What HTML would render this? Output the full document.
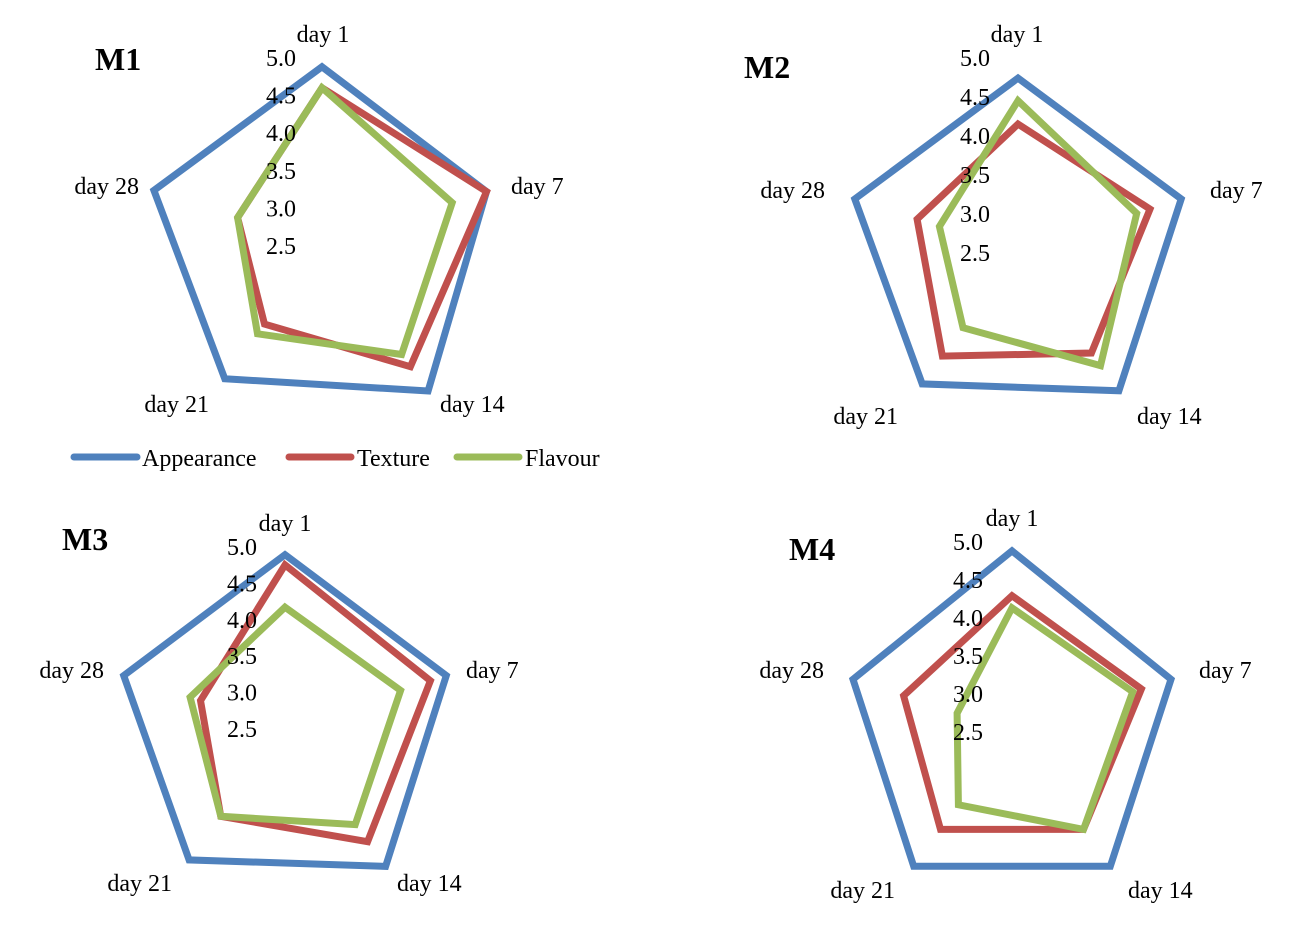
<!DOCTYPE html>
<html><head><meta charset="utf-8"><style>
html,body{margin:0;padding:0;background:#fff;}
svg{display:block;font-family:"Liberation Serif",serif;}
</style></head><body>
<svg id="chart" width="1309" height="939" viewBox="0 0 1309 939">
<g>
<line x1="74" y1="457" x2="137" y2="457" stroke="#4F81BD" stroke-width="7" stroke-linecap="round"/>
<text x="142" y="466" font-size="24">Appearance</text>
<line x1="289" y1="457" x2="351" y2="457" stroke="#C0504D" stroke-width="7" stroke-linecap="round"/>
<text x="357" y="466" font-size="24">Texture</text>
<line x1="457" y1="457" x2="519" y2="457" stroke="#9BBB59" stroke-width="7" stroke-linecap="round"/>
<text x="525" y="466" font-size="24">Flavour</text>
</g>
</svg>
<script>
const categories = ["day 1","day 7","day 14","day 21","day 28"];
const seriesNames = ["Appearance","Texture","Flavour"];
const tickLabels = ["5.0","4.5","4.0","3.5","3.0","2.5"];
const tickValues = [5.0,4.5,4.0,3.5,3.0,2.5];
const axisMin = 2.5, axisMax = 5.0;
const m1Appearance = [4.87,4.8,4.9,4.7,4.85];
const m1Texture = [4.59,4.8,4.5,3.8,3.68];
const m1Flavour = [4.59,4.32,4.3,3.96,3.68];
const m2Appearance = [4.73,4.7,4.7,4.59,4.7];
const m2Texture = [4.14,4.28,4.1,4.15,3.86];
const m2Flavour = [4.44,4.1,4.3,3.7,3.56];
const m3Appearance = [4.88,4.83,4.85,4.74,4.83];
const m3Texture = [4.74,4.6,4.43,4.0,3.72];
const m3Flavour = [4.16,4.17,4.14,4.0,3.87];
const m4Appearance = [4.87,4.7,4.7,4.7,4.7];
const m4Texture = [4.28,4.29,4.1,4.1,4.0];
const m4Flavour = [4.12,4.17,4.1,3.7,3.26];
const colors = ["#4F81BD","#C0504D","#9BBB59"];

const NS = "http://www.w3.org/2000/svg";
const svg = document.getElementById("chart");
const panels = [
 {title:"M1", cx:322, cy:245, R:188, tx:95, ty:70, tickX:296, data:[m1Appearance,m1Texture,m1Flavour],
  labels:[[323,42,"middle"],[511,194,"start"],[440,412,"start"],[209,412,"end"],[139,194,"end"]]},
 {title:"M2", cx:1018, cy:252, R:195, tx:744, ty:78, tickX:990, data:[m2Appearance,m2Texture,m2Flavour],
  labels:[[1017,42,"middle"],[1210,198,"start"],[1137,424,"start"],[898,424,"end"],[825,198,"end"]]},
 {title:"M3", cx:285, cy:728, R:182, tx:62, ty:550, tickX:257, data:[m3Appearance,m3Texture,m3Flavour],
  labels:[[285,531,"middle"],[466,678,"start"],[397,891,"start"],[172,891,"end"],[104,678,"end"]]},
 {title:"M4", cx:1012, cy:731, R:190, tx:789, ty:560, tickX:983, data:[m4Appearance,m4Texture,m4Flavour],
  labels:[[1012,526,"middle"],[1199,678,"start"],[1128,898,"start"],[895,898,"end"],[824,678,"end"]]}
];
function rScale(p, v){ return (v-axisMin)/(axisMax-axisMin)*p.R; }
function pt(p, i, v){
  const a = -Math.PI/2 + i*2*Math.PI/categories.length;
  const r = rScale(p, v);
  return [p.cx + r*Math.cos(a), p.cy + r*Math.sin(a)];
}
function mk(tag, attrs, parent){
  const el = document.createElementNS(NS, tag);
  for (const k in attrs) el.setAttribute(k, attrs[k]);
  parent.appendChild(el);
  return el;
}
panels.forEach(p => {
  const g = mk("g", {}, svg);
  
  
  const t = mk("text", {x:p.tx, y:p.ty, "font-size":32, "font-weight":"bold"}, g);
  t.textContent = p.title;
  
  
  p.data.forEach((vals, s) => {
    const pts = vals.map((v,i) => pt(p,i,v).map(n=>n.toFixed(1)).join(",")).join(" ");
    const poly = mk("polygon", {points:pts, fill:"none", stroke:colors[s], "stroke-width":7, "stroke-linejoin":"miter"}, g);
    
    
  });
  tickValues.forEach((v, k) => {
    const y = p.cy - rScale(p, v) + 9;
    const tl = mk("text", {x:p.tickX, y:y.toFixed(1), "font-size":24, "text-anchor":"end"}, g);
    tl.textContent = tickLabels[k];
    
    
  });
  categories.forEach((c, i) => {
    const L = p.labels[i];
    const ct = mk("text", {x:L[0], y:L[1], "font-size":24, "text-anchor":L[2]}, g);
    ct.textContent = c;
    
    
  });
});
</script>
</body></html>
